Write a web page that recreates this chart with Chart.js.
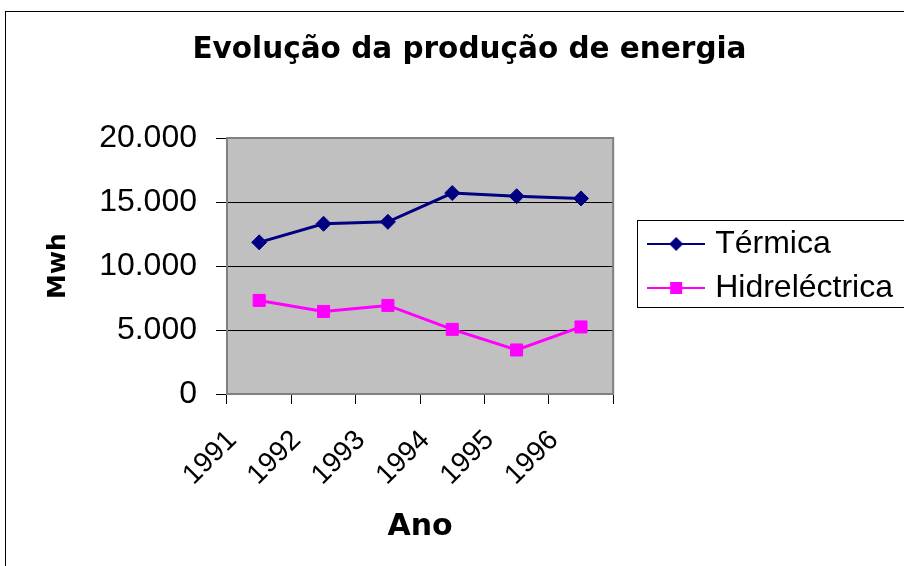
<!DOCTYPE html>
<html>
<head>
<meta charset="utf-8">
<script src="https://cdn.jsdelivr.net/npm/chart.js@4/dist/chart.umd.min.js"></script>
<style>
  html, body { margin: 0; padding: 0; background: #fff; overflow: hidden; }
  #wrap { position: relative; width: 904px; height: 566px; overflow: hidden; }
  #frame { position: absolute; left: 5px; top: 11px; width: 2000px; height: 2000px; border: 1px solid #000; box-sizing: border-box; }
  #c { position: absolute; left: 0; top: 0; }
</style>
</head>
<body>
<div id="wrap">
  <div id="frame"></div>
  <canvas id="c" width="904" height="566"></canvas>
</div>
<script>
// ---- data ----
const categories = ['1991', '1992', '1993', '1994', '1995', '1996'];
const termica = [11850, 13300, 13450, 15700, 15450, 15280];
const hidreletrica = [7310, 6450, 6920, 5050, 3440, 5240];
const seriesNames = ['Térmica', 'Hidreléctrica'];
const yTicks = [0, 5000, 10000, 15000, 20000];
const chartTitle = 'Evolução da produção de energia';
const xTitle = 'Ano';
const yTitle = 'Mwh';

const NAVY = '#000080';
const MAGENTA = '#FF00FF';
const FONT = "'Liberation Sans', Arial, sans-serif";
const BOLDFONT = "'DejaVu Sans', 'Liberation Sans', sans-serif";

Chart.defaults.color = '#000';
Chart.defaults.font.family = FONT;

function fmt(v) {
  return String(v).replace(/\B(?=(\d{3})+(?!\d))/g, '.');
}

function legendImage(color, shape) {
  const cv = document.createElement('canvas');
  cv.width = 58; cv.height = 16;
  const g = cv.getContext('2d');
  g.strokeStyle = color; g.lineWidth = 2;
  g.beginPath(); g.moveTo(0, 8); g.lineTo(58, 8); g.stroke();
  g.fillStyle = color;
  g.beginPath();
  if (shape === 'diamond') {
    g.moveTo(29, 1); g.lineTo(36, 8); g.lineTo(29, 15); g.lineTo(22, 8); g.closePath();
  } else {
    g.rect(23, 2, 12, 12);
  }
  g.fill();
  return cv;
}
const legendImgs = [legendImage(NAVY, 'diamond'), legendImage(MAGENTA, 'square')];

const plotFrame = {
  id: 'plotFrame',
  beforeDraw(chart) {
    const { ctx, chartArea: a } = chart;
    ctx.save();
    ctx.fillStyle = '#C0C0C0';
    ctx.fillRect(a.left, a.top, a.right - a.left, a.bottom - a.top);
    ctx.restore();
  },
  beforeDatasetsDraw(chart) {
    const { ctx, chartArea: a } = chart;
    ctx.save();
    ctx.strokeStyle = '#808080';
    ctx.lineWidth = 2;
    ctx.strokeRect(a.left, a.top, a.right - a.left, a.bottom - a.top);
    ctx.restore();
  },
  afterDraw(chart) {
    const lg = chart.legend;
    const hb = lg && lg.legendHitBoxes;
    if (!hb || hb.length < 2) return;
    const { ctx } = chart;
    const x = hb[0].left - 16;
    const top = hb[0].top - 8;
    const bottom = hb[1].top + hb[1].height + 3;
    ctx.save();
    ctx.strokeStyle = '#000';
    ctx.lineWidth = 1;
    ctx.strokeRect(Math.round(x) + 0.5, Math.round(top) + 0.5, chart.width + 20, Math.round(bottom - top));
    ctx.restore();
  }
};

new Chart(document.getElementById('c'), {
  type: 'line',
  data: {
    labels: categories,
    datasets: [
      {
        label: seriesNames[0], data: termica, yAxisID: 'y',
        borderColor: NAVY, backgroundColor: NAVY, borderWidth: 3,
        pointStyle: 'rectRot', pointRadius: 7.5, pointBorderWidth: 1,
        pointBackgroundColor: NAVY, pointBorderColor: NAVY, tension: 0
      },
      {
        label: seriesNames[1], data: hidreletrica, yAxisID: 'y',
        borderColor: MAGENTA, backgroundColor: MAGENTA, borderWidth: 3,
        pointStyle: 'rect', pointRadius: 8.5, pointBorderWidth: 1,
        pointBackgroundColor: MAGENTA, pointBorderColor: MAGENTA, tension: 0
      }
    ]
  },
  options: {
    responsive: false,
    animation: false,
    devicePixelRatio: 1,
    layout: { padding: { left: 36, right: 1, top: 0, bottom: 0 } },
    plugins: {
      title: {
        display: true, text: chartTitle, color: '#000',
        font: { family: BOLDFONT, size: 29.5, weight: 'bold' },
        padding: { top: 32.8, bottom: 69.8 }
      },
      legend: {
        position: 'right',
        fullSize: false,
        maxWidth: 320,
        labels: {
          color: '#000',
          font: { family: FONT, size: 32 },
          usePointStyle: true,
          pointStyleWidth: 46,
          padding: 12,
          generateLabels(chart) {
            const items = Chart.defaults.plugins.legend.labels.generateLabels(chart);
            items.forEach((it, i) => { it.pointStyle = legendImgs[i]; });
            return items;
          }
        }
      },
      tooltip: { enabled: false }
    },
    scales: {
      x: {
        type: 'category',
        offset: true,
        grid: { display: true, drawOnChartArea: false, drawTicks: true, tickLength: 10, color: '#000', offset: true },
        border: { display: false },
        ticks: {
          autoSkip: false, minRotation: 45, maxRotation: 45, padding: 20,
          labelOffset: -27, color: '#000', font: { family: FONT, size: 28 }
        },
        title: {
          display: true, text: xTitle, color: '#000',
          font: { family: BOLDFONT, size: 30, weight: 'bold' },
          padding: { top: 0, bottom: 21 }
        },
        afterFit(s) { s.height = 172; }
      },
      y: {
        type: 'linear', position: 'left',
        min: 0, max: 20000,
        grid: { color: '#000', lineWidth: 1, tickLength: 11, drawTicks: true },
        border: { display: false },
        afterBuildTicks(s) { s.ticks = yTicks.map(v => ({ value: v })); },
        ticks: {
          padding: 19, color: '#000', font: { family: FONT, size: 32 },
          callback: (v) => fmt(v)
        },
        title: {
          display: true, text: yTitle, color: '#000',
          font: { family: BOLDFONT, size: 25, weight: 'bold' },
          padding: { top: 7, bottom: 0 }
        },
        afterFit(s) { s.width = 191; }
      },
      gap: {
        type: 'linear', position: 'right', display: true,
        grid: { display: false }, border: { display: false },
        ticks: { display: false },
        afterFit(s) { s.width = 28; }
      }
    }
  },
  plugins: [plotFrame]
});
</script>
</body>
</html>
